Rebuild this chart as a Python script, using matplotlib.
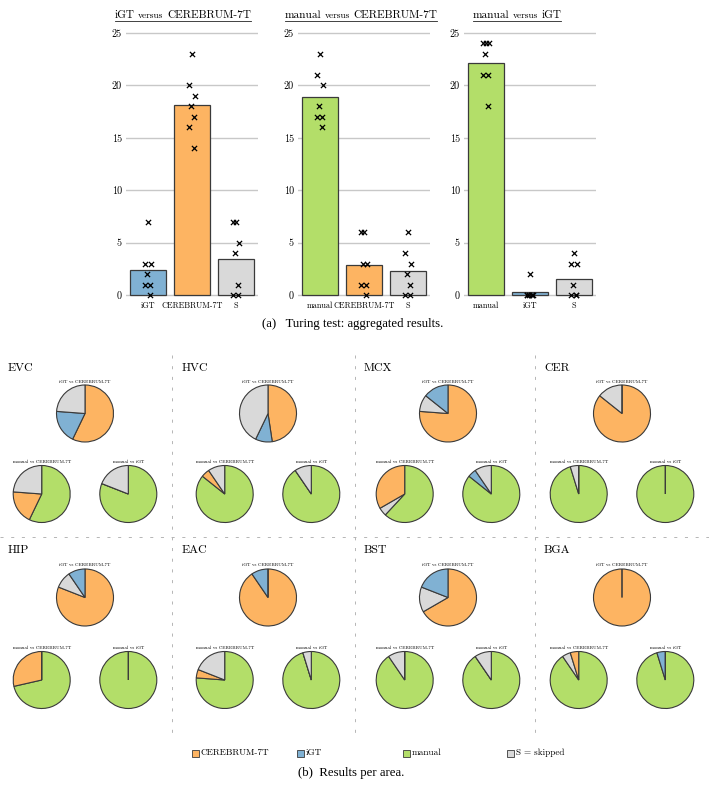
import matplotlib
matplotlib.use('Agg')
import matplotlib.pyplot as plt
import numpy as np
from matplotlib.patches import Rectangle
from matplotlib.lines import Line2D

W, H = 709, 787
DPI = 100
plt.rcParams['axes.formatter.use_mathtext'] = True
plt.rcParams['lines.scale_dashes'] = False
CM = 'cmr10'
SERIF = 'Liberation Serif'

# ---------------- data: (a) per-rater counts ----------------
igt_cer_igt = [7, 3, 3, 2, 1, 1, 0]
igt_cer_cer = [23, 20, 19, 18, 17, 16, 14]
igt_cer_s = [7, 7, 5, 4, 1, 0, 0]
man_cer_man = [23, 21, 20, 18, 17, 17, 16]
man_cer_cer = [6, 6, 3, 3, 1, 1, 0]
man_cer_s = [6, 4, 3, 2, 1, 0, 0]
man_igt_man = [24, 24, 24, 23, 21, 21, 18]
man_igt_igt = [2, 0, 0, 0, 0, 0, 0]
man_igt_s = [4, 3, 3, 1, 0, 0, 0]

bar_titles = [[('iGT', 'b'), ('versus', 's'), ('CEREBRUM-7T', 'b')],
              [('manual', 'b'), ('versus', 's'), ('CEREBRUM-7T', 'b')],
              [('manual', 'b'), ('versus', 's'), ('iGT', 'b')]]
bar_ticklabels = [['iGT', 'CEREBRUM-7T', 'S'],
                  ['manual', 'CEREBRUM-7T', 'S'],
                  ['manual', 'iGT', 'S']]
bar_keys = [['I', 'C', 'S'], ['M', 'C', 'S'], ['M', 'I', 'S']]
yticks = [0, 5, 10, 15, 20, 25]

# ---------------- data: (b) counts per area ----------------
areas = ['EVC', 'HVC', 'MCX', 'CER', 'HIP', 'EAC', 'BST', 'BGA']
pie_titles = ['iGT vs CEREBRUM-7T', 'manual vs CEREBRUM-7T', 'manual vs iGT']
# iGT vs CEREBRUM-7T
p1_cer = [12, 10, 16, 18, 17, 19, 14, 21]
p1_igt = [4, 2, 3, 0, 2, 2, 4, 0]
p1_s = [5, 9, 2, 3, 2, 0, 3, 0]
# manual vs CEREBRUM-7T
p2_man = [12, 18, 13, 20, 15, 16, 19, 19]
p2_cer = [4, 1, 7, 0, 6, 1, 0, 1]
p2_s = [5, 2, 1, 1, 0, 4, 2, 1]
# manual vs iGT
p3_man = [17, 19, 18, 21, 21, 20, 19, 20]
p3_igt = [0, 0, 1, 0, 0, 0, 0, 1]
p3_s = [4, 2, 2, 0, 0, 1, 2, 0]
# clockwise wedge order per area (M manual, C CEREBRUM-7T, I iGT, S skipped)
p1_order = ['CIS', 'CIS', 'CSI', 'CSI', 'CSI', 'CIS', 'CSI', 'CIS']
p2_order = ['MCS', 'MCS', 'MSC', 'MSC', 'MCS', 'MCS', 'MSC', 'MSC']
p3_order = ['MIS'] * 8

legend_labels = ['CEREBRUM-7T', 'iGT', 'manual', 'S = skipped']
legend_keys = ['C', 'I', 'M', 'S']

COL = {'C': '#fdb462', 'I': '#80b1d3', 'M': '#b3de69', 'S': '#d9d9d9'}
EDGE = '#3a3a3a'

fig = plt.figure(figsize=(W / DPI, H / DPI), dpi=DPI)
fig.patch.set_facecolor('white')


def fx(x):
    return x / W


def fy(y):
    return 1 - y / H


# ---------------- (a) bar panels ----------------
panel_left = [126, 298, 464]
panel_w = 132
y0_px, y25_px = 295, 33
ppu = (y0_px - y25_px) / 25.0
ylo, yhi = -0.3, 25.3
ax_bottom = y0_px - ylo * ppu
ax_top = y0_px - yhi * ppu
title_cx = [183, 361, 517]
jitter = [0.0, -0.06, 0.06, -0.03, 0.035, -0.07, 0.05]

series = [[igt_cer_igt, igt_cer_cer, igt_cer_s],
          [man_cer_man, man_cer_cer, man_cer_s],
          [man_igt_man, man_igt_igt, man_igt_s]]

for p in range(3):
    ax = fig.add_axes([fx(panel_left[p]), fy(ax_bottom), panel_w / W,
                       (ax_bottom - ax_top) / H])
    means = [np.mean(v) for v in series[p]]
    ax.bar(range(3), means, width=0.8,
           color=[COL[k] for k in bar_keys[p]], edgecolor=EDGE,
           linewidth=0.9, zorder=2)
    for i, vals in enumerate(series[p]):
        xs = [i + jitter[j % len(jitter)] for j in range(len(vals))]
        ax.scatter(xs, vals, marker='x', color='black', s=14,
                   linewidths=0.9, zorder=3, clip_on=False)
    ax.set_xlim(-0.5, 2.5)
    ax.set_ylim(ylo, yhi)
    ax.set_yticks(yticks)
    ax.set_xticks(range(3))
    ax.set_xticklabels(bar_ticklabels[p], fontfamily=CM, fontsize=5.9)
    ax.set_yticklabels([str(t) for t in yticks], fontfamily=CM, fontsize=7.3)
    ax.tick_params(axis='x', length=0, pad=2.5)
    ax.tick_params(axis='y', length=0, pad=3)
    ax.yaxis.grid(True, color='#c8c8c8', linewidth=1.0)
    ax.set_axisbelow(True)
    for s in ax.spines.values():
        s.set_visible(False)
    ax.set_facecolor('none')

# titles with underline
renderer = fig.canvas.get_renderer()
sizes = {'b': 8.1, 's': 6.8}
gap = 3.5
base_y = 17.5
for p in range(3):
    texts = []
    for s, sz in bar_titles[p]:
        t = fig.text(0, fy(base_y), s, fontsize=sizes[sz], fontfamily=CM,
                     ha='left', va='baseline')
        texts.append(t)
    widths = [t.get_window_extent(renderer).width for t in texts]
    total = sum(widths) + gap * (len(texts) - 1)
    x = title_cx[p] - total / 2
    x_start = x
    for t, w in zip(texts, widths):
        t.set_x(fx(x))
        x += w + gap
    fig.add_artist(Line2D([fx(x_start), fx(x_start + total)],
                          [fy(base_y + 3.2), fy(base_y + 3.2)],
                          color='#222222', linewidth=0.6))

fig.text(fx(353), fy(327), '(a)   Turing test: aggregated results.',
         fontfamily=SERIF, fontsize=9.2, ha='center', va='baseline')

# ---------------- (b) pies ----------------
col_top_x = [85, 268, 448, 622]
dx_bottom = 43.3
row_top_y = [413.5, 597.5]
row_bot_y = [494, 680]
label_x = [8, 182, 364, 544]
label_base_y = [371, 553]
R = 28.5
LIM = 1.04

pie_sets = [(p1_order, {'C': p1_cer, 'I': p1_igt, 'S': p1_s}),
            (p2_order, {'M': p2_man, 'C': p2_cer, 'S': p2_s}),
            (p3_order, {'M': p3_man, 'I': p3_igt, 'S': p3_s})]


def draw_pie(cx, cy, order, counts, title):
    side = 2 * R * LIM
    ax = fig.add_axes([fx(cx - side / 2), fy(cy + side / 2), side / W, side / H])
    vals = [counts[k] for k in order]
    ax.pie(vals, colors=[COL[k] for k in order], startangle=90,
           counterclock=False, radius=1,
           wedgeprops=dict(edgecolor=EDGE, linewidth=0.8))
    ax.set_xlim(-LIM, LIM)
    ax.set_ylim(-LIM, LIM)
    ax.set_aspect('equal')
    ax.axis('off')
    fig.text(fx(cx), fy(cy - R - 1.5), title, fontfamily=CM, fontsize=3.4,
             ha='center', va='bottom')


for a, area in enumerate(areas):
    r, c = divmod(a, 4)
    fig.text(fx(label_x[c]), fy(label_base_y[r]), area, fontfamily=CM,
             fontsize=8.6, ha='left', va='baseline')
    centers = [(col_top_x[c], row_top_y[r]),
               (col_top_x[c] - dx_bottom, row_bot_y[r]),
               (col_top_x[c] + dx_bottom, row_bot_y[r])]
    for k, (order_list, data) in enumerate(pie_sets):
        counts = {key: v[a] for key, v in data.items()}
        draw_pie(centers[k][0], centers[k][1], order_list[a], counts,
                 pie_titles[k])

# dashed separators
dash_kw = dict(color='#b5b5b5', linewidth=0.7, dashes=(2.2, 5.5))
for xs in [172, 354.5, 535]:
    fig.add_artist(Line2D([fx(xs), fx(xs)], [fy(355), fy(733)], **dash_kw))
fig.add_artist(Line2D([0, 1], [fy(537), fy(537)], **dash_kw))

# legend
leg_x = [192, 297, 403, 507]
leg_y = 753
sq = 7
for lx, lab, key in zip(leg_x, legend_labels, legend_keys):
    fig.add_artist(Rectangle((fx(lx), fy(leg_y + sq / 2)), sq / W, sq / H,
                             facecolor=COL[key], edgecolor=EDGE, linewidth=0.6,
                             transform=fig.transFigure))
    fig.text(fx(lx + sq + 1.5), fy(leg_y), lab, fontfamily=CM, fontsize=6.6,
             ha='left', va='center')

fig.text(fx(351), fy(776), '(b)  Results per area.', fontfamily=SERIF,
         fontsize=9.2, ha='center', va='baseline')

fig.savefig('out.png', dpi=DPI, facecolor='white')
